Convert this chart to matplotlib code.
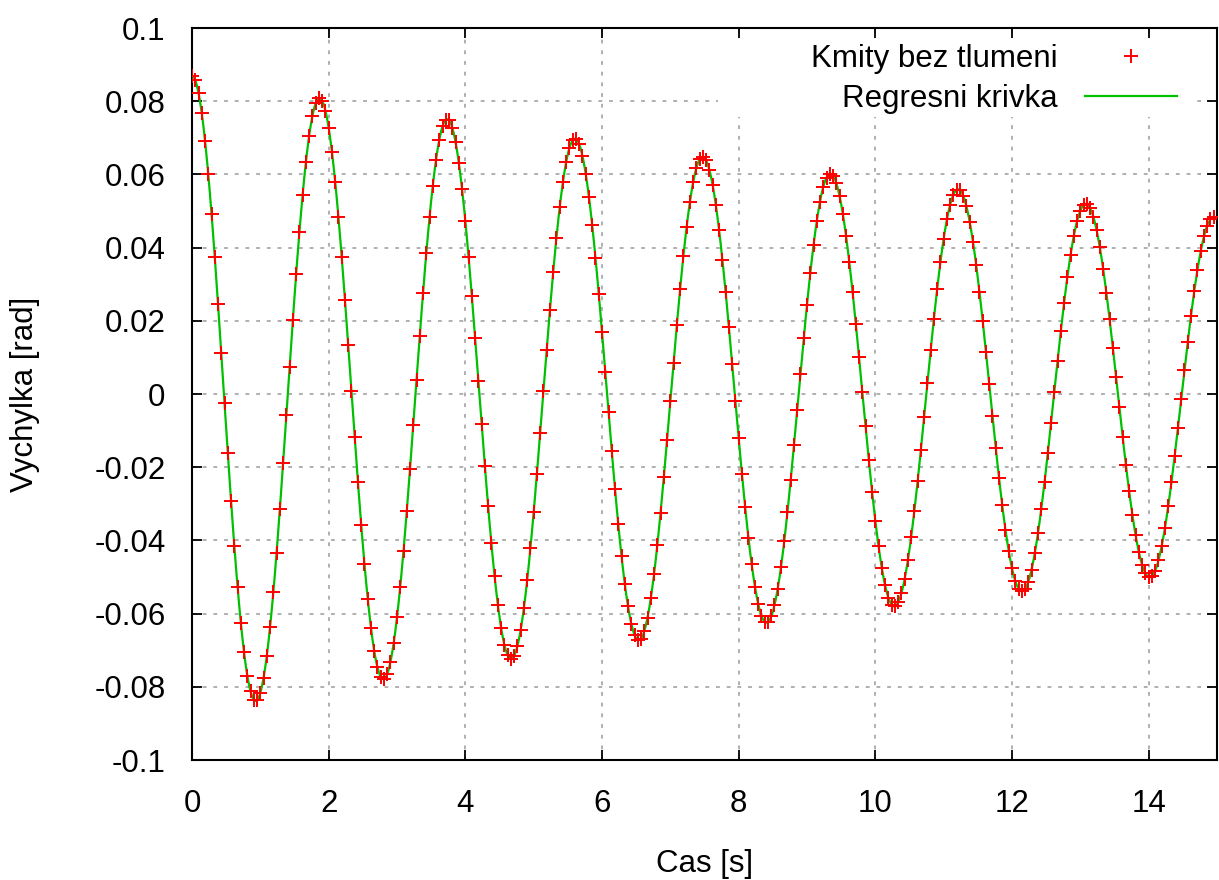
import numpy as np
import matplotlib.pyplot as plt
from matplotlib.ticker import FuncFormatter
from matplotlib.patches import Rectangle

# fit parameters (damped oscillation)
amplitude = 0.087      # rad, at t = 0
damping = 0.0394       # 1/s
period = 1.869         # s
phase = 0.0

# sampling of the measured points
t_start = 0.0
t_end = 15.0
dt = 1 / 21

x_ticks = [0, 2, 4, 6, 8, 10, 12, 14]
y_ticks = [-0.1, -0.08, -0.06, -0.04, -0.02, 0, 0.02, 0.04, 0.06, 0.08, 0.1]

label_points = "Kmity bez tlumeni"
label_fit = "Regresni krivka"
x_label = "Cas [s]"
y_label = "Vychylka [rad]"

omega = 2 * np.pi / period
t_meas = np.arange(t_start, t_end, dt)
y_meas = amplitude * np.exp(-damping * t_meas) * np.cos(omega * t_meas + phase)
t_fit = np.linspace(t_start, t_end, 1500)
y_fit = amplitude * np.exp(-damping * t_fit) * np.cos(omega * t_fit + phase)

plt.rcParams['font.family'] = ['Liberation Sans', 'DejaVu Sans']
fs = 22.5

fig = plt.figure(figsize=(12.19, 8.8), dpi=100)
ax = fig.add_axes([192 / 1219, 1 - 760 / 880, 1025 / 1219, 732 / 880])

ax.set_axisbelow(True)
ax.grid(True, color='#9a9a9a', linestyle=(0, (2.5, 4.5)), linewidth=1.1)

# white area behind the key, like gnuplot
ax.add_patch(Rectangle((0.513, 0.878), 0.4675, 0.107, transform=ax.transAxes,
                       facecolor='white', edgecolor='none', zorder=1))

ax.plot(t_meas, y_meas, linestyle='none', marker='+', color='#ff0000',
        markersize=10.5, markeredgewidth=1.4, label=label_points, zorder=3)
ax.plot(t_fit, y_fit, color='#00c000', linewidth=1.6, label=label_fit, zorder=2)

ax.set_xlim(0, 15)
ax.set_ylim(-0.1, 0.1)
ax.set_xticks(x_ticks)
ax.set_yticks(y_ticks)
fmt = FuncFormatter(lambda v, p: '%g' % round(v, 6))
ax.xaxis.set_major_formatter(fmt)
ax.yaxis.set_major_formatter(fmt)

ax.tick_params(direction='in', length=7, width=1.3, labelsize=fs,
               top=True, right=True)
ax.tick_params(axis='y', pad=19)
ax.tick_params(axis='x', pad=21)
for s in ax.spines.values():
    s.set_linewidth(1.5)

ax.set_xlabel(x_label, fontsize=fs)
ax.set_ylabel(y_label, fontsize=fs)
ax.xaxis.set_label_coords(0.5, -0.142)
ax.yaxis.set_label_coords(-0.163, 0.5)
ax.xaxis.label.set_va('center')
ax.yaxis.label.set_va('center')

ax.legend(loc='upper right', bbox_to_anchor=((1177 - 192) / 1025, 0.978),
          frameon=False, markerfirst=False, fontsize=fs, numpoints=1,
          handlelength=2.95, handletextpad=0.86, labelspacing=0.32,
          borderpad=0, borderaxespad=0)

fig.savefig('out.png', dpi=100)
